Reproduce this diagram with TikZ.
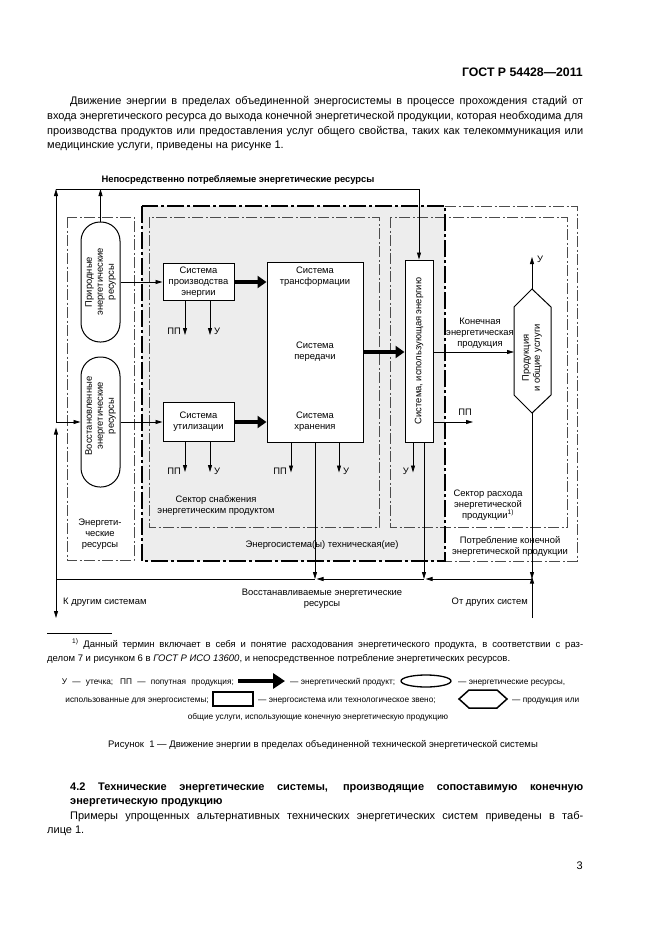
\documentclass[tikz,border=0pt]{standalone}
\usepackage{fontspec}
\setmainfont{Liberation Sans}
\usetikzlibrary{arrows.meta,calc}
\newcommand\dgf{\fontsize{9.4}{11}\selectfont}
\newcommand\bodyf{\fontsize{11}{13}\selectfont}
\newcommand\footf{\fontsize{9.5}{11}\selectfont}
\newcommand\legf{\fontsize{8.3}{9.5}\selectfont}
\begin{document}
\begin{tikzpicture}[x=1pt,y=-1pt,
  lbl/.style={font=\dgf, inner sep=0pt, align=center},
  box/.style={draw, line width=1pt, fill=white, inner sep=0pt, font=\dgf, align=center},
  pill/.style={draw, line width=1pt, fill=white, inner sep=0pt, rounded corners=19pt, minimum width=39pt},
  arr/.style={line width=0.8pt, -{Triangle[length=7pt,width=4pt]}},
  ln/.style={line width=0.8pt},
  fat/.style={line width=3.6pt, -{Triangle[length=9pt,width=12pt]}},
  dd/.style={line width=0.5pt, black!70, dash pattern=on 11pt off 2.5pt on 2pt off 2.5pt},
  ddthick/.style={line width=1.3pt, dash pattern=on 17pt off 3pt on 3pt off 3pt},
  txt/.style={inner sep=0pt, anchor=base west},
]
\useasboundingbox (0,0) rectangle (661,936);
\fill[white] (0,0) rectangle (661,936);

% ---------- page text ----------
\node[inner sep=0pt, anchor=base east, font=\bfseries\fontsize{12.3}{14}\selectfont] (hdr) at (583,77) {ГОСТ Р 54428—2011};
\node[txt, font=\bodyf] (p1l) at (70,105) {\makebox[513pt][s]{Движение энергии в пределах объединенной энергосистемы в процессе прохождения стадий от}};
\node[txt, font=\bodyf] (p2l) at (47,120) {\makebox[536pt][s]{входа энергетического ресурса до выхода конечной энергетической продукции, которая необходима для}};
\node[txt, font=\bodyf] (p3l) at (47,135) {\makebox[536pt][s]{производства продуктов или предоставления услуг общего свойства, таких как телекоммуникация или}};
\node[txt, font=\bodyf] (p4l) at (47,149) {медицинские услуги, приведены на рисунке 1.};

% ---------- background regions ----------
\fill[black!7] (142,206) rectangle (445,561);
\draw[dd] (67,217) rectangle (134,560);
\draw[dd] (149,217) rectangle (379,527);
\draw[dd] (390,217) rectangle (567,527);
\draw[dd] (445,206) -- (577,206) -- (577,561) -- (445,561);
\draw[ddthick] (142,206) rectangle (445,561);

% ---------- region labels ----------
\node[lbl] (erl) at (100,534) {Энергети-\\ческие\\ресурсы};
\node[lbl] (ssl) at (216,505.5) {Сектор снабжения\\энергетическим продуктом};
\node[lbl] (srl) at (488,505) {Сектор расхода\\энергетической\\продукции\textsuperscript{1)}};
\node[lbl] (pkl) at (510,546) {Потребление конечной\\энергетической продукции};
\node[lbl] (esl) at (322,545) {Энергосистема(ы) техническая(ие)};

% ---------- nodes ----------
\node[pill, minimum height=120pt] (pr) at (100.5,282) {};
\node[lbl, rotate=90] (prt) at (100.5,282) {Природные\\энергетические\\ресурсы};
\node[pill, minimum height=130pt] (vr) at (100.5,422) {};
\node[lbl, rotate=90] (vrt) at (100.5,416) {Восстановленные\\энергетические\\ресурсы};

\node[box, minimum width=71pt, minimum height=37pt] (sp) at (198.5,282) {Система\\производства\\энергии};
\node[box, minimum width=71pt, minimum height=39pt] (su) at (198.5,422) {Система\\утилизации};
\node[box, minimum width=96pt, minimum height=180pt] (big) at (315,352) {};
\node[lbl] (bt1) at (315,276.5) {Система\\трансформации};
\node[lbl] (bt2) at (315,351.5) {Система\\передачи};
\node[lbl] (bt3) at (315,421.5) {Система\\хранения};
\node[box, minimum width=28pt, minimum height=182pt] (ue) at (419,351) {};
\node[lbl, rotate=90] (uet) at (419,351) {Система, использующая энергию};

% hexagon
\coordinate (ht) at (532,289);
\coordinate (hb) at (532,413);
\coordinate (hl) at (514,352);
\draw[line width=1pt, fill=white] (ht) -- (551,307) -- (551,395) -- (hb) -- (514,395) -- (514,307) -- cycle;
\node[lbl, rotate=90] (hxt) at (532,358) {Продукция\\и общие услуги};

% ---------- coordinates ----------
\coordinate (tl) at (56,189);
\coordinate (tr) at (419,189);
\coordinate (lj) at (56,422);
\coordinate (lja) at (56,427.5);
\coordinate (bl) at (56,579);
\coordinate (bj1) at (315,579);
\coordinate (bj2) at (424,579);
\coordinate (bj3) at (532,579);
\coordinate (kd) at (56,618);
\coordinate (od) at (532,618);
\coordinate (hu) at (532,257);

% ---------- top label ----------
\node[inner sep=0pt, font=\bfseries\fontsize{9.4}{11}\selectfont] (npr) at (238,180) {Непосредственно потребляемые энергетические ресурсы};

% ---------- connectors ----------
\draw[ln] (tl) -- (tr);
\draw[arr] (tr) -- (ue.north);
\draw[arr] (lj) -- (tl);
\draw[arr] (bl) -- (lja);
\draw[arr] (lj) -- (vr.west);
\draw[arr] (bl) -- (kd);
\draw[arr] (pr.north) -- (pr.north |- tl);
\draw[arr] (pr.east) -- (sp.west);
\draw[arr] (vr.east) -- (su.west);
\draw[fat] (sp.east) -- (sp.east -| big.west);
\draw[fat] (su.east) -- (su.east -| big.west);
\draw[fat] (big.east) -- (big.east -| ue.west);

% ПП / У
\draw[arr] ([xshift=-13.5pt]sp.south) -- ++(0,34);
\draw[arr] ([xshift=11.5pt]sp.south) -- ++(0,34);
\node[lbl, anchor=east] (l1) at (181,331) {ПП};
\node[lbl, anchor=west] (l2) at (214,331) {У};
\draw[arr] ([xshift=-13.5pt]su.south) -- ++(0,30);
\draw[arr] ([xshift=11.5pt]su.south) -- ++(0,30);
\node[lbl, anchor=east] (l3) at (181,471) {ПП};
\node[lbl, anchor=west] (l4) at (214,471) {У};
\draw[arr] ([xshift=-24pt]big.south) -- ++(0,30);
\draw[arr] ([xshift=24pt]big.south) -- ++(0,30);
\node[lbl, anchor=east] (l5) at (287,471) {ПП};
\node[lbl, anchor=west] (l6) at (343,471) {У};
\draw[arr] ([xshift=-6pt]ue.south) -- ++(0,30);
\node[lbl, anchor=east] (l7) at (409,471) {У};
\coordinate (uepp) at (433,422);
\coordinate (ppend) at (473,422);
\draw[arr] (uepp) -- (ppend);
\node[lbl] (l8) at (465,412) {ПП};
\draw[arr] (ue.east |- hl) -- (hl);
\node[lbl] (kep) at (480,333) {Конечная\\энергетическая\\продукция};
\draw[arr] (ht) -- (hu);
\node[lbl, anchor=west] (l9) at (537,259) {У};

% bottom
\draw[arr] (big.south -| bj1) -- (bj1);
\draw[arr] ([xshift=5pt]ue.south) -- (bj2);
\draw[arr] (hb) -- (bj3);
\draw[arr] (od) -- ([yshift=2.5pt]bj3);
\draw[arr] (bj3) -- ([xshift=1.5pt]bj2);
\draw[arr] (bj2) -- ([xshift=1.5pt]bj1);
\draw[ln] (bj1) -- (bl);
\node[lbl, anchor=west] (kds) at (63,602) {К другим системам};
\node[lbl, anchor=east] (ods) at (528,602) {От других систем};
\node[lbl] (vres) at (322,598.5) {Восстанавливаемые энергетические\\ресурсы};

% ---------- footnote ----------
\draw[line width=0.5pt] (47,633) -- (112,633);
\node[txt, font=\footf] (fn1) at (72,647) {\makebox[511pt][s]{\textsuperscript{1)} Данный термин включает в себя и понятие расходования энергетического продукта, в соответствии с раз-}};
\node[txt, font=\footf] (fn2) at (47,661) {делом 7 и рисунком 6 в \textit{ГОСТ Р ИСО 13600}, и непосредственное потребление энергетических ресурсов.};

% ---------- legend ----------
\node[inner sep=0pt, anchor=base east, font=\legf] (lg1) at (234,684) {\makebox[172pt][s]{У — утечка; ПП — попутная продукция;}};
\coordinate (la1) at (238,681);
\coordinate (la2) at (285,681);
\draw[line width=4.5pt, -{Triangle[length=12pt,width=15pt]}] (la1) -- (la2);
\node[txt, font=\legf] (lg2) at (290,684) {\makebox[105pt][s]{— энергетический продукт;}};
\draw[line width=1.3pt] (426,681) ellipse [x radius=25pt, y radius=6pt];
\node[txt, font=\legf] (lg3) at (458,684) {— энергетические ресурсы,};
\node[inner sep=0pt, anchor=base east, font=\legf] (lg4) at (209,702) {использованные для энергосистемы;};
\draw[line width=1.5pt] (213,692) rectangle (253,706);
\node[txt, font=\legf] (lg5) at (258,702) {— энергосистема или технологическое звено;};
\draw[line width=1.5pt] (459,699) -- (469,690) -- (497,690) -- (507,699) -- (497,708) -- (469,708) -- cycle;
\node[txt, font=\legf] (lg6) at (512,702) {— продукция или};
\node[inner sep=0pt, anchor=base, font=\legf] (lg7) at (318,719) {общие услуги, использующие конечную энергетическую продукцию};

\node[inner sep=0pt, anchor=base, font=\footf] (cap) at (323,747) {Рисунок\ \ 1 — Движение энергии в пределах объединенной технической энергетической системы};

% ---------- section ----------
\node[txt, font=\bfseries\bodyf] (s1) at (70,790) {\makebox[513pt][s]{4.2 Технические энергетические системы, производящие сопоставимую конечную}};
\node[txt, font=\bfseries\bodyf] (s2) at (70,804) {энергетическую продукцию};
\node[txt, font=\bodyf] (s3) at (70,819) {\makebox[513pt][s]{Примеры упрощенных альтернативных технических энергетических систем приведены в таб-}};
\node[txt, font=\bodyf] (s4) at (47,833) {лице 1.};
\node[inner sep=0pt, anchor=base east, font=\bodyf] (pg) at (583,869) {3};
\end{tikzpicture}
\end{document}
